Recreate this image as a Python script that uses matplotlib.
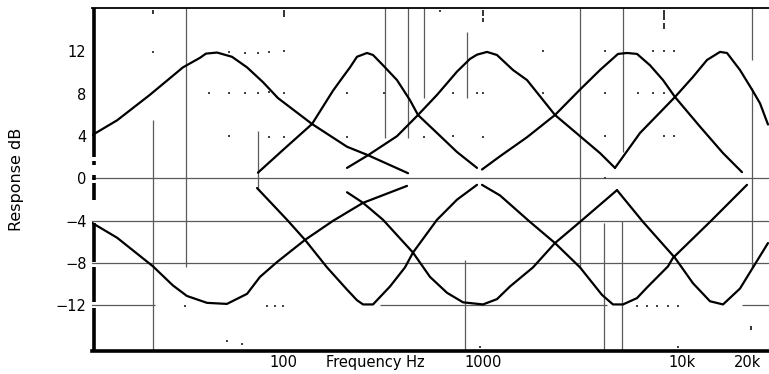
import matplotlib
matplotlib.use("Agg")
import matplotlib.pyplot as plt
import numpy as np

plt.rcParams['font.family'] = ['DejaVu Sans']

# ---------------- data (frequency Hz, response dB) ----------------
boost_a_f = [11.0, 14.7, 21.5, 31.6, 38.5, 41.3, 47.0, 55.9, 66.6, 80.2, 95.4, 141.8, 213, 272, 433]
boost_a_db = [4.1, 5.5, 7.9, 10.5, 11.4, 11.8, 11.9, 11.5, 10.5, 9.1, 7.6, 5.15, 3.0, 2.2, 0.5]

cut_a_f = [11.0, 14.7, 22.3, 28.1, 33.1, 41.8, 52.7, 66.6, 77.4, 94.3, 130.7, 181, 256.6, 428]
cut_a_db = [-4.2, -5.6, -8.3, -10.1, -11.1, -11.75, -11.85, -10.9, -9.3, -7.9, -5.8, -4.0, -2.3, -0.7]

boost_b_f = [75.6, 101.2, 141.8, 181, 203.2, 220.5, 239.1, 268.7, 288.2, 323.7, 380.9,
             443, 486.3, 606.6, 765.4, 965.7]
boost_b_db = [0.55, 2.7, 5.15, 8.3, 9.6, 10.5, 11.5, 11.86, 11.67, 10.7, 9.3,
              7.4, 6.0, 4.3, 2.5, 1.0]

cut_b_f = [74.8, 106, 130.7, 168.8, 213, 239.1, 256.6, 288.2, 323.7, 351.2, 418, 458.7, 606.6, 765.4, 965.7]
cut_b_db = [-0.9, -3.9, -5.8, -8.4, -10.5, -11.5, -11.9, -11.9, -10.9, -10.2, -8.4, -7.0, -3.9, -2.0, -0.6]

boost_c_f = [213, 272, 380.9, 486.3, 606.6, 765.4, 890.4, 965.7, 1085, 1218, 1468,
             1728, 2392, 3200, 4037, 4806]
boost_c_db = [1.0, 2.2, 4.0, 6.0, 7.9, 10.1, 11.3, 11.7, 11.96, 11.67, 10.25,
              9.3, 6.0, 4.0, 2.4, 1.0]

cut_c_f = [213, 256.6, 323.7, 458.7, 559.2, 681.3, 820.8, 1035.5, 1218, 1418, 1852, 2392, 3200, 4919]
cut_c_db = [-1.3, -2.3, -3.9, -7.0, -9.3, -10.8, -11.7, -11.9, -11.4, -10.2, -8.4, -6.1, -4.1, -1.1]

boost_d_f = [1023.5, 1262, 1728, 2392, 3200, 4037, 4977, 5525, 6209, 7220, 8400, 9656,
             12915, 16879, 21049]
boost_d_db = [0.85, 2.1, 3.9, 6.0, 8.4, 10.25, 11.77, 11.86, 11.77, 10.7, 9.3, 7.7,
              4.9, 2.4, 0.6]

cut_d_f = [1023.5, 1262, 1788, 2392, 3200, 4132, 4695, 5276, 6209, 6972, 8903, 9434, 14506, 22309]
cut_d_db = [-0.6, -1.6, -4.1, -6.1, -8.4, -11.0, -11.9, -11.9, -11.3, -10.3, -8.3, -7.5, -4.1, -0.6]

boost_e_f = [4806, 6429, 9656, 11905, 14014, 16294, 17682, 20565, 23650, 25960, 28480]
boost_e_db = [1.0, 4.3, 7.7, 9.6, 11.2, 11.96, 11.86, 10.25, 8.4, 7.1, 5.1]

cut_e_f = [4919, 6657, 9656, 11905, 14506, 16879, 20565, 23923, 28480]
cut_e_db = [-1.1, -4.1, -7.5, -9.9, -11.6, -11.9, -10.4, -8.4, -6.1]

# tick labels
x_ticks = [100, 1000, 10000, 20000]
x_tick_labels = ["100", "1000", "10k", "20k"]
y_ticks = [12, 8, 4, 0, -4, -8, -12]
y_tick_labels = ["12", "8", "4", "0", "\u22124", "\u22128", "\u221212"]

# faint grid remnants: horizontal (dB, f_start, f_end)
h_rule_db = [0, -4, -8, -12, -12, -12]
h_rule_f0 = [10.9, 10.9, 10.9, 10.9, 312.6, 21049]
h_rule_f1 = [30000, 30000, 30000, 22.8, 4379, 30000]

# vertical remnants (f, dB_low, dB_high)
v_rule_f = [22.3, 32.7, 75.6, 331.3, 433, 521.4, 859.6, 840, 3200, 5276, 23650, 23650, 4229, 5213]
v_rule_lo = [-16.3, -8.4, -1.1, 3.8, 3.8, 7.6, 7.6, -16.3, -8.4, 2.5, 11.2, -8.4, -16.3, -16.3]
v_rule_hi = [5.5, 16.1, 4.5, 16.1, 16.1, 16.1, 13.85, -7.7, 16.1, 16.1, 16.1, 8.55, -4.2, -4.0]

# stray dots of the old dotted grid (f, dB)
dot_f = [22.3, 42.8, 54.0, 65.0, 75.6, 54.0, 65.0, 75.6, 54.0, 86.0, 102.3, 86.0, 102.3, 86.0,
         102.3, 213, 213, 327.5, 521.4, 730.5, 730.5, 965.7, 1035.5, 1035.5, 2081, 2081, 4279,
         4279, 4279, 6281, 7475, 8499, 7475, 8499, 9546, 8499, 9546, 4279, 32.4, 52.7, 62.8,
         84.0, 92.2, 101.2, 1000, 6209, 6972, 7833, 8903, 10000, 10000, 628]
dot_db = [11.96, 8.08, 8.08, 8.08, 8.08, 11.96, 11.86, 11.86, 4.0, 11.96, 12.05, 8.18, 8.08, 3.92,
          3.92, 8.08, 3.92, 8.08, 3.92, 8.08, 4.0, 8.08, 8.08, 3.92, 12.05, 8.08, 12.05,
          8.08, 4.0, 8.08, 8.08, 8.08, 12.05, 12.05, 12.05, 4.0, 4.0, 0.05, -12.05, -15.4, -15.6,
          -12.05, -12.05, -12.05, -15.9, -12.05, -12.05, -12.05, -12.05, -12.05, -15.9, 15.8]

# short dark tick stubs (f, dB_low, dB_high)
stub_f = [22.3, 102.3, 1035.5, 1035.5, 8499, 8499, 23380]
stub_lo = [15.5, 15.3, 15.4, 14.8, 15.0, 14.1, -14.3]
stub_hi = [15.9, 15.9, 15.9, 15.2, 15.9, 14.7, -13.9]

# broken left axis pieces (dB_low, dB_high)
axis_lo = [2.0, 1.3, -0.1, -2.0, -7.9, -11.7, -16.3]
axis_hi = [16.1, 1.7, 0.3, -0.4, -4.2, -8.4, -12.2]

# ---------------- figure ----------------
W, H = 769, 374
fig = plt.figure(figsize=(W / 100, H / 100), dpi=100)
ax = fig.add_axes([92 / W, (H - 351) / H, (W - 92) / W, (351 - 8) / H])
ax.set_xscale('log')
ax.set_xlim(10 ** (3 - 388 / 198), 10 ** (3 + 289 / 198))
ax.set_ylim(-16.30, 16.11)

grid_col = '#5a5a5a'
for d, a, b in zip(h_rule_db, h_rule_f0, h_rule_f1):
    ax.hlines(d, a, b, color=grid_col, lw=0.9, zorder=1)
for f, lo, hi in zip(v_rule_f, v_rule_lo, v_rule_hi):
    ax.vlines(f, lo, hi, color=grid_col, lw=0.9, zorder=1)

ax.scatter(dot_f, dot_db, s=2.2, marker='s', color='#444444', linewidths=0, zorder=2)
for f, lo, hi in zip(stub_f, stub_lo, stub_hi):
    ax.vlines(f, lo, hi, color='#222222', lw=1.3, zorder=2)

curves = [
    (boost_a_f, boost_a_db), (cut_a_f, cut_a_db),
    (boost_b_f, boost_b_db), (cut_b_f, cut_b_db),
    (boost_c_f, boost_c_db), (cut_c_f, cut_c_db),
    (boost_d_f, boost_d_db), (cut_d_f, cut_d_db),
    (boost_e_f, boost_e_db), (cut_e_f, cut_e_db),
]
for fx, dby in curves:
    ax.plot(fx, dby, color='black', lw=1.6, solid_joinstyle='round',
            solid_capstyle='round', zorder=3)

# frame
for s in ['left', 'right', 'bottom', 'top']:
    ax.spines[s].set_visible(False)
ax.axhline(ax.get_ylim()[1], color='black', lw=1.3, clip_on=False, zorder=4)
ax.axhline(ax.get_ylim()[0], color='black', lw=2.6, clip_on=False, zorder=4)
for lo, hi in zip(axis_lo, axis_hi):
    ax.plot([0.003, 0.003], [lo, hi], transform=ax.get_yaxis_transform(),
            color='black', lw=2.6, clip_on=False, solid_capstyle='butt', zorder=4)

# x labels placed as text under their frequencies (slight nudges like the original print)
ax.set_xticks([])
ax.xaxis.set_minor_locator(matplotlib.ticker.NullLocator())
label_nudge_pt = [1, 2, 3, 7]
for f, lab, dx in zip(x_ticks, x_tick_labels, label_nudge_pt):
    ax.annotate(lab, xy=(f, 0), xycoords=ax.get_xaxis_transform(),
                xytext=(dx, -3), textcoords='offset points', ha='center', va='top',
                fontsize=10.5, annotation_clip=False)

ax.set_yticks(y_ticks)
ax.set_yticklabels(y_tick_labels)
ax.tick_params(axis='both', length=0, labelsize=10.5, colors='black')
ax.tick_params(axis='y', pad=4)

ax.annotate("Frequency Hz", xy=(297, 0), xycoords=ax.get_xaxis_transform(),
            xytext=(0, -3), textcoords='offset points', ha='center', va='top',
            fontsize=10.5, annotation_clip=False)
fig.text(17 / W, 1 - 179 / H, "Response dB", rotation=90, ha='center', va='center',
         fontsize=11.5)

fig.savefig("out.png", dpi=100)
